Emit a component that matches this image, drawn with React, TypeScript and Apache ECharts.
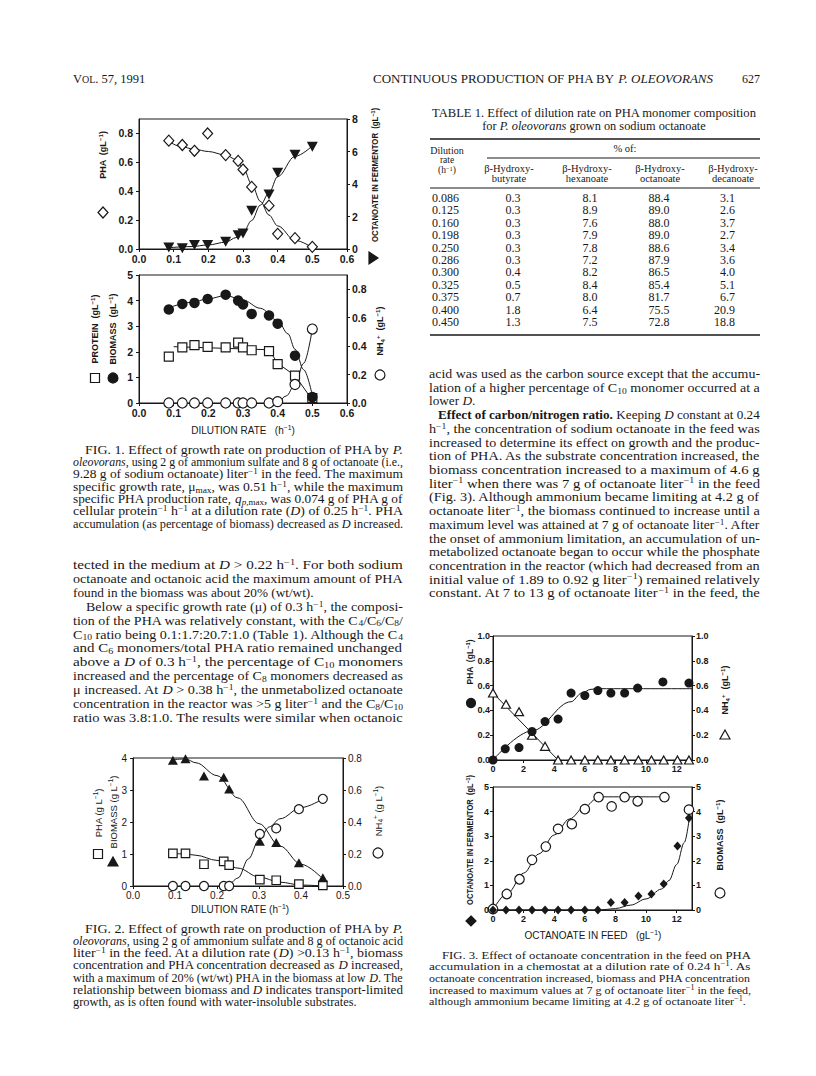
import React, { useEffect, useRef } from "react";
import * as echarts from "echarts";

const INK = "#181818";
const SERIF = '"Liberation Serif", "Times New Roman", serif';
const SANS = '"Liberation Sans", Arial, sans-serif';

// ---------------- DATA ----------------
// Fig. 1 (dilution rate, h^-1)
const fig1D = [0.086, 0.125, 0.16, 0.198, 0.25, 0.286, 0.3, 0.325, 0.375, 0.4, 0.45, 0.5];
const fig1Pha = [0.75, 0.72, 0.68, 0.8, 0.65, 0.61, 0.55, 0.43, 0.3, 0.105, 0.075, 0.015];
const fig1Octanoate = [0.1, 0.05, 0.25, 0.25, 0.45, 0.85, 0.95, 2.35, 3.35, 4.7, 5.8, 6.3];
const fig1PhaFitX = [0.086, 0.12, 0.16, 0.2, 0.25, 0.28, 0.3, 0.325, 0.35, 0.375, 0.4, 0.45, 0.5];
const fig1PhaFitY = [0.745, 0.71, 0.69, 0.675, 0.65, 0.62, 0.565, 0.45, 0.33, 0.235, 0.16, 0.06, 0.01];
const fig1OctFitX = [0.086, 0.15, 0.2, 0.25, 0.28, 0.3, 0.325, 0.35, 0.375, 0.4, 0.45, 0.5];
const fig1OctFitY = [0.08, 0.15, 0.25, 0.42, 0.7, 1.0, 1.75, 2.7, 3.45, 4.45, 5.7, 6.35];
const fig1Biomass = [3.65, 3.87, 3.91, 4.06, 4.23, 4.0, 3.85, 3.48, 3.42, 3.1, 1.85, 0.23];
const fig1Protein = [1.81, 2.17, 2.26, 2.19, 2.17, 2.36, 2.17, 2.06, 2.03, 1.52, 1.07, 0.19];
const fig1Nh4 = [0, 0, 0, 0, 0, 0, 0, 0, 0, 0.01, 0.13, 0.52];
const fig1BioFitX = [0.086, 0.15, 0.2, 0.25, 0.3, 0.35, 0.4, 0.43, 0.45, 0.475, 0.5];
const fig1BioFitY = [3.72, 3.93, 4.07, 4.2, 4.02, 3.7, 3.22, 2.7, 2.1, 1.3, 0.3];
const fig1ProtFitX = [0.1, 0.375, 0.4, 0.45, 0.5];
const fig1ProtFitY = [2.2, 2.08, 1.55, 1.07, 0.12];
const fig1Nh4FitX = [0.375, 0.4, 0.425, 0.45, 0.475, 0.5];
const fig1Nh4FitY = [0, 0.008, 0.05, 0.13, 0.28, 0.52];

// Fig. 2 (octanoic acid)
const fig2D = [0.095, 0.125, 0.169, 0.216, 0.229, 0.302, 0.341, 0.395, 0.452];
const fig2Biomass = [3.93, 3.98, 3.44, 3.4, 3.03, 1.4, 1.36, 0.73, 0.26];
const fig2Pha = [1.02, 1.02, 0.68, 0.77, 0.65, 0.2, 0.18, 0.06, 0.02];
const fig2Nh4 = [0, 0, 0, 0, 0, 0.325, 0.36, 0.48, 0.545];
const fig2BioFitX = [0.095, 0.125, 0.15, 0.2, 0.25, 0.3, 0.35, 0.4, 0.452];
const fig2BioFitY = [3.95, 3.97, 3.85, 3.45, 2.75, 1.95, 1.25, 0.68, 0.22];
const fig2PhaFitX = [0.095, 0.125, 0.15, 0.2, 0.25, 0.3, 0.35, 0.4, 0.452];
const fig2PhaFitY = [1.02, 1.0, 0.96, 0.8, 0.56, 0.28, 0.12, 0.03, 0.0];
const fig2Nh4FitX = [0.229, 0.25, 0.275, 0.3, 0.325, 0.35, 0.4, 0.452];
const fig2Nh4FitY = [0, 0.05, 0.17, 0.29, 0.37, 0.42, 0.49, 0.545];

// Fig. 3 (octanoate in feed, g/L)
const fig3PhaX = [0, 0.8, 1.7, 2.55, 3.4, 4.25, 5.1, 6.0, 6.85, 7.7, 8.6, 9.45, 11.1, 12.8];
const fig3Pha = [0, 0.09, 0.1, 0.23, 0.31, 0.33, 0.54, 0.52, 0.56, 0.54, 0.54, 0.58, 0.63, 0.62];
const fig3Feed16 = [0, 0.85, 1.7, 2.55, 3.4, 4.25, 5.1, 6.0, 6.85, 7.7, 8.6, 9.5, 10.35, 11.15, 12.05, 12.8];
const fig3Nh4 = [0.54, 0.45, 0.39, 0.2, 0.11, 0, 0, 0, 0, 0, 0, 0, 0, 0, 0, 0];
const fig3Octanoate = [0, 0, 0, 0, 0, 0, 0, 0, 0, 0.3, 0.3, 0.57, 0.65, 1.06, 2.6, 3.74];
const fig3BioX = [0, 0.9, 1.73, 2.55, 3.45, 4.25, 5.15, 6.0, 6.9, 7.75, 8.6, 9.45, 11.2, 12.8];
const fig3Biomass = [0.04, 0.65, 1.25, 2.04, 2.58, 3.3, 3.49, 4.1, 4.59, 4.21, 4.59, 4.42, 4.59, 4.08];
const fig3PhaFitX = [0, 2.55, 5.1, 5.8, 6.4, 7, 13];
const fig3PhaFitY = [0, 0.235, 0.47, 0.54, 0.57, 0.575, 0.575];
const fig3Nh4FitX = [0, 4.25];
const fig3Nh4FitY = [0.54, 0];
const fig3BioFitX = [0, 1, 2, 3, 4, 5, 6, 6.9, 11.2];
const fig3BioFitY = [0, 0.72, 1.5, 2.28, 3.05, 3.7, 4.2, 4.6, 4.6];
const fig3OctFitX = [0, 7, 8, 9, 10, 11, 11.5, 12, 12.5, 12.85];
const fig3OctFitY = [0, 0, 0.06, 0.2, 0.45, 0.85, 1.2, 1.85, 2.75, 3.85];

// Tick labels
const fig1XTicks = [0, 0.1, 0.2, 0.3, 0.4, 0.5, 0.6];
const fig1TopLeftTicks = [0, 0.2, 0.4, 0.6, 0.8];
const fig1TopRightTicks = [0, 2, 4, 6, 8];
const fig1BotLeftTicks = [0, 1, 2, 3, 4, 5];
const fig1BotRightTicks = [0, 0.2, 0.4, 0.6, 0.8];
const fig2XTicks = [0, 0.1, 0.2, 0.3, 0.4, 0.5];
const fig2LeftTicks = [0, 1, 2, 3, 4];
const fig2RightTicks = [0, 0.2, 0.4, 0.6, 0.8];
const fig3XTicks = [0, 2, 4, 6, 8, 10, 12];
const fig3TopTicks = [0, 0.2, 0.4, 0.6, 0.8, 1.0];
const fig3BotTicks = [0, 1, 2, 3, 4, 5];

// Table 1
const tableDilution = ["0.086", "0.125", "0.160", "0.198", "0.250", "0.286", "0.300", "0.325", "0.375", "0.400", "0.450"];
const tableButyrate = ["0.3", "0.3", "0.3", "0.3", "0.3", "0.3", "0.4", "0.5", "0.7", "1.8", "1.3"];
const tableHexanoate = ["8.1", "8.9", "7.6", "7.9", "7.8", "7.2", "8.2", "8.4", "8.0", "6.4", "7.5"];
const tableOctanoate = ["88.4", "89.0", "88.0", "89.0", "88.6", "87.9", "86.5", "85.4", "81.7", "75.5", "72.8"];
const tableDecanoate = ["3.1", "2.6", "3.7", "2.7", "3.4", "3.6", "4.0", "5.1", "6.7", "20.9", "18.8"];

// Body text (\t = indent, trailing \n = last line of paragraph)
const bodyLeft = [
  "tected in the medium at {i|D} > 0.22 h{sup|−1}. For both sodium",
  "octanoate and octanoic acid the maximum amount of PHA",
  "found in the biomass was about 20% (wt/wt).\n",
  "\tBelow a specific growth rate (μ) of 0.3 h{sup|−1}, the composi-",
  "tion of the PHA was relatively constant, with the C{sub|4}/C{sub|6}/C{sub|8}/",
  "C{sub|10} ratio being 0.1:1.7:20.7:1.0 (Table 1). Although the C{sub|4}",
  "and C{sub|6} monomers/total PHA ratio remained unchanged",
  "above a {i|D} of 0.3 h{sup|−1}, the percentage of C{sub|10} monomers",
  "increased and the percentage of C{sub|8} monomers decreased as",
  "μ increased. At {i|D} > 0.38 h{sup|−1}, the unmetabolized octanoate",
  "concentration in the reactor was >5 g liter{sup|−1} and the C{sub|8}/C{sub|10}",
  "ratio was 3.8:1.0. The results were similar when octanoic",
];
const bodyRight = [
  "acid was used as the carbon source except that the accumu-",
  "lation of a higher percentage of C{sub|10} monomer occurred at a",
  "lower {i|D}.\n",
  "\t{b|Effect of carbon/nitrogen ratio.} Keeping {i|D} constant at 0.24",
  "h{sup|−1}, the concentration of sodium octanoate in the feed was",
  "increased to determine its effect on growth and the produc-",
  "tion of PHA. As the substrate concentration increased, the",
  "biomass concentration increased to a maximum of 4.6 g",
  "liter{sup|−1} when there was 7 g of octanoate liter{sup|−1} in the feed",
  "(Fig. 3). Although ammonium became limiting at 4.2 g of",
  "octanoate liter{sup|−1}, the biomass continued to increase until a",
  "maximum level was attained at 7 g of octanoate liter{sup|−1}. After",
  "the onset of ammonium limitation, an accumulation of un-",
  "metabolized octanoate began to occur while the phosphate",
  "concentration in the reactor (which had decreased from an",
  "initial value of 1.89 to 0.92 g liter{sup|−1}) remained relatively",
  "constant. At 7 to 13 g of octanoate liter{sup|−1} in the feed, the",
];
const caption1 = [
  "\tFIG. 1. Effect of growth rate on production of PHA by {i|P.}",
  "{i|oleovorans}, using 2 g of ammonium sulfate and 8 g of octanoate (i.e.,",
  "9.28 g of sodium octanoate) liter{sup|−1} in the feed. The maximum",
  "specific growth rate, μ{sub|max}, was 0.51 h{sup|−1}, while the maximum",
  "specific PHA production rate, {i|q}{isub|p}{sub|,max}, was 0.074 g of PHA g of",
  "cellular protein{sup|−1} h{sup|−1} at a dilution rate ({i|D}) of 0.25 h{sup|−1}. PHA",
  "accumulation (as percentage of biomass) decreased as {i|D} increased.",
];
const caption2 = [
  "\tFIG. 2. Effect of growth rate on production of PHA by {i|P.}",
  "{i|oleovorans}, using 2 g of ammonium sulfate and 8 g of octanoic acid",
  "liter{sup|−1} in the feed. At a dilution rate ({i|D}) >0.13 h{sup|−1}, biomass",
  "concentration and PHA concentration decreased as {i|D} increased,",
  "with a maximum of 20% (wt/wt) PHA in the biomass at low {i|D}. The",
  "relationship between biomass and {i|D} indicates transport-limited",
  "growth, as is often found with water-insoluble substrates.\n",
];
const caption3 = [
  "\tFIG. 3. Effect of octanoate concentration in the feed on PHA",
  "accumulation in a chemostat at a dilution rate of 0.24 h{sup|−1}. As",
  "octanoate concentration increased, biomass and PHA concentration",
  "increased to maximum values at 7 g of octanoate liter{sup|−1} in the feed,",
  "although ammonium became limiting at 4.2 g of octanoate liter{sup|−1}.\n",
];

// ---------------- HELPERS ----------------
let mctx: CanvasRenderingContext2D | null = null;
function measure(text: string, fs: number, family: string, weight: string): number {
  if (!mctx) mctx = document.createElement("canvas").getContext("2d");
  const ctx = mctx as CanvasRenderingContext2D;
  const re = /\{(\w+)\|([^}]*)\}/g;
  let w = 0;
  let last = 0;
  const seg = (s: string, st: string) => {
    let size = fs;
    let italic = false;
    let bold = weight === "bold";
    if (st === "i") italic = true;
    if (st === "b") bold = true;
    if (st === "sup" || st === "sub") size = fs * 0.68;
    if (st === "isub") {
      italic = true;
      size = fs * 0.68;
    }
    if (st === "sc") size = fs * 0.8;
    ctx.font = `${italic ? "italic " : ""}${bold ? "bold " : ""}${size}px ${family}`;
    w += ctx.measureText(s).width;
  };
  let m: RegExpExecArray | null;
  while ((m = re.exec(text))) {
    if (m.index > last) seg(text.slice(last, m.index), "");
    seg(m[2], m[1]);
    last = re.lastIndex;
  }
  if (last < text.length) seg(text.slice(last), "");
  return w;
}

function richFor(fs: number, family: string, weight: string, lh: number) {
  const small = fs * 0.68;
  const base = { fontSize: fs, fontFamily: family, fontWeight: weight, lineHeight: lh, fill: INK, color: INK };
  const sm = { fontSize: small, fontFamily: family, fontWeight: weight, lineHeight: small + 1, fill: INK, color: INK };
  return {
    i: { ...base, fontStyle: "italic" },
    b: { ...base, fontWeight: "bold" },
    sc: { ...base, fontSize: fs * 0.8 },
    sup: { ...sm, verticalAlign: "top" },
    sub: { ...sm, verticalAlign: "bottom" },
    isub: { ...sm, fontStyle: "italic", verticalAlign: "bottom" },
  };
}

type TOpt = { family?: string; weight?: string; width?: number; scale?: number; align?: string; rotate?: boolean; lh?: number };
function txt(x: number, y: number, text: string, fs: number, o: TOpt = {}) {
  const family = o.family ?? SERIF;
  const weight = o.weight ?? "normal";
  const lh = o.lh ?? Math.round(fs * 1.2);
  let sx = o.scale ?? 1;
  if (o.width) sx = o.width / measure(text, fs, family, weight);
  return {
    type: "text",
    x,
    y,
    rotation: o.rotate ? Math.PI / 2 : 0,
    scaleX: sx,
    silent: true,
    style: {
      text,
      fontSize: fs,
      fontFamily: family,
      fontWeight: weight,
      lineHeight: lh,
      fill: INK,
      rich: richFor(fs, family, weight, lh),
      textAlign: o.align ?? "left",
      align: o.align ?? "left",
      textVerticalAlign: "middle",
      verticalAlign: "middle",
    },
  };
}

function block(lines: string[], x0: number, x1: number, y0: number, dy: number, fs: number, indent: number) {
  const items = lines.map((raw) => {
    const ind = raw.startsWith("\t");
    const end = raw.endsWith("\n");
    const t = raw.replace(/^\t/, "").replace(/\n$/, "");
    const xs = x0 + (ind ? indent : 0);
    const nat = measure(t, fs, SERIF, "normal");
    return { t, xs, end, scale: (x1 - xs) / nat };
  });
  const just = items.filter((d) => !d.end);
  const avg = just.reduce((a, d) => a + d.scale, 0) / Math.max(1, just.length);
  return items.map((d, i) => txt(d.xs, y0 + i * dy, d.t, fs, { scale: d.end ? Math.min(avg, 1.06) : d.scale }));
}

const stroke = (filled: boolean) => ({ fill: filled ? INK : "#fff", stroke: INK, lineWidth: 1.2 });
const gRect = (cx: number, cy: number, s: number, filled: boolean) => ({
  type: "rect", silent: true, shape: { x: cx - s / 2, y: cy - s / 2, width: s, height: s }, style: stroke(filled),
});
const gCircle = (cx: number, cy: number, r: number, filled: boolean) => ({
  type: "circle", silent: true, shape: { cx, cy, r }, style: stroke(filled),
});
const gPoly = (pts: number[][], filled: boolean) => ({ type: "polygon", silent: true, shape: { points: pts }, style: stroke(filled) });
const gLine = (x1: number, y1: number, x2: number, y2: number, w: number) => ({
  type: "line", silent: true, shape: { x1, y1, x2, y2 }, style: { stroke: INK, lineWidth: w },
});

const pairs = (xs: number[], ys: number[]) => xs.map((x, i) => [x, ys[i]]);

function scatter(xi: number, yi: number, data: number[][], symbol: string, size: any, filled: boolean, rotate = 0) {
  return {
    type: "scatter", xAxisIndex: xi, yAxisIndex: yi, data, symbol, symbolSize: size, symbolRotate: rotate,
    clip: false, z: 5, silent: true,
    itemStyle: { color: filled ? INK : "#fff", borderColor: INK, borderWidth: filled ? 0 : 1.2, opacity: 1 },
  };
}
function curve(xi: number, yi: number, data: number[][], smooth = true) {
  return {
    type: "line", xAxisIndex: xi, yAxisIndex: yi, data, symbol: "none", showSymbol: false,
    smooth: smooth ? 0.35 : false, smoothMonotone: "x", clip: false, z: 3, silent: true,
    lineStyle: { color: INK, width: 1 },
  };
}

type F = { size: number; weight: string };
function axis(gridIndex: number, max: number, ticks: number[], dec: number, f: F, margin: number, position?: string) {
  const last = ticks[ticks.length - 1];
  return {
    type: "value", gridIndex, min: 0, max, interval: ticks[1] - ticks[0], position,
    axisLine: { show: true, onZero: false, lineStyle: { color: INK, width: 1 } },
    axisTick: { show: true, inside: false, length: 3, customValues: ticks, lineStyle: { color: INK, width: 1 } },
    splitLine: { show: false },
    axisLabel: {
      show: true, customValues: ticks, margin, color: INK, fontFamily: SANS, fontSize: f.size, fontWeight: f.weight,
      hideOverlap: false,
      formatter: (v: number) => (v > last + 1e-9 ? "" : Number(v).toFixed(dec)),
    },
  };
}

const F1: F = { size: 10.5, weight: "bold" };
const F2: F = { size: 10, weight: "normal" };
const F3: F = { size: 9, weight: "bold" };

function buildOption() {
  const grid = (left: number, top: number, width: number, height: number) => ({
    left, top, width, height, show: true, borderColor: INK, borderWidth: 1, backgroundColor: "transparent",
    containLabel: false, outerBoundsMode: "none",
  });

  const xAxis = [
    axis(0, 0.6, fig1XTicks, 1, F1, 4),
    axis(1, 0.6, fig1XTicks, 1, F1, 4),
    axis(2, 0.5, fig2XTicks, 1, F2, 4),
    axis(3, 13, fig3XTicks, 0, F3, 4),
    axis(4, 13, fig3XTicks, 0, F3, 4),
  ];
  const yAxis = [
    axis(0, 0.9, fig1TopLeftTicks, 1, F1, 6, "left"),
    axis(0, 8, fig1TopRightTicks, 0, F1, 5, "right"),
    axis(1, 5, fig1BotLeftTicks, 0, F1, 6, "left"),
    axis(1, 0.9, fig1BotRightTicks, 1, F1, 5, "right"),
    axis(2, 4, fig2LeftTicks, 0, F2, 6, "left"),
    axis(2, 0.8, fig2RightTicks, 1, F2, 5, "right"),
    axis(3, 1.0, fig3TopTicks, 1, F3, 3, "left"),
    axis(3, 1.0, fig3TopTicks, 1, F3, 4, "right"),
    axis(4, 5, fig3BotTicks, 0, F3, 4, "left"),
    axis(4, 5, fig3BotTicks, 0, F3, 4, "right"),
  ];

  const series = [
    // Fig 1 top
    curve(0, 0, pairs(fig1PhaFitX, fig1PhaFitY)),
    curve(0, 1, pairs(fig1OctFitX, fig1OctFitY)),
    scatter(0, 0, pairs(fig1D, fig1Pha), "diamond", [10, 11], false),
    scatter(0, 1, pairs(fig1D, fig1Octanoate), "triangle", [11, 10], true, 180),
    // Fig 1 bottom
    curve(1, 2, pairs(fig1BioFitX, fig1BioFitY)),
    curve(1, 2, pairs(fig1ProtFitX, fig1ProtFitY), false),
    curve(1, 3, pairs(fig1Nh4FitX, fig1Nh4FitY)),
    scatter(1, 2, pairs(fig1D, fig1Protein), "rect", 9, false),
    scatter(1, 3, pairs(fig1D, fig1Nh4), "circle", 10, false),
    scatter(1, 2, pairs(fig1D, fig1Biomass), "circle", 10.5, true),
    // Fig 2
    curve(2, 4, pairs(fig2BioFitX, fig2BioFitY)),
    curve(2, 4, pairs(fig2PhaFitX, fig2PhaFitY)),
    curve(2, 5, pairs(fig2Nh4FitX, fig2Nh4FitY)),
    scatter(2, 4, pairs(fig2D, fig2Pha), "rect", 8.5, false),
    scatter(2, 5, pairs(fig2D, fig2Nh4), "circle", 9, false),
    scatter(2, 4, pairs(fig2D, fig2Biomass), "triangle", [10, 9], true),
    // Fig 3 top
    curve(3, 6, pairs(fig3PhaFitX, fig3PhaFitY)),
    curve(3, 7, pairs(fig3Nh4FitX, fig3Nh4FitY), false),
    scatter(3, 7, pairs(fig3Feed16, fig3Nh4), "triangle", [9, 8], false),
    scatter(3, 6, pairs(fig3PhaX, fig3Pha), "circle", 9, true),
    // Fig 3 bottom
    curve(4, 9, pairs(fig3BioFitX, fig3BioFitY)),
    curve(4, 8, pairs(fig3OctFitX, fig3OctFitY)),
    scatter(4, 9, pairs(fig3BioX, fig3Biomass), "circle", 9.5, false),
    scatter(4, 8, pairs(fig3Feed16, fig3Octanoate), "diamond", [8, 9], true),
  ];

  const els: any[] = [];
  // Running head
  els.push(txt(73, 79, "V{sc|OL}. 57, 1991", 12.5));
  els.push(txt(373, 79, "CONTINUOUS PRODUCTION OF PHA BY {i|P. OLEOVORANS}", 11.5, { width: 340 }));
  els.push(txt(760, 79, "627", 12, { align: "right" }));

  // Table 1
  els.push(txt(432, 113, "TABLE 1. Effect of dilution rate on PHA monomer composition", 12.3, { width: 325 }));
  els.push(txt(594, 126, "for {i|P. oleovorans} grown on sodium octanoate", 12.3, { align: "center" }));
  els.push(gLine(430, 139, 760, 139, 1.5));
  els.push(gLine(487, 158, 760, 158, 1));
  els.push(gLine(430, 188, 760, 188, 1));
  els.push(gLine(430, 335, 760, 335, 1.5));
  els.push(txt(447, 150, "Dilution", 10, { align: "center", lh: 10 }));
  els.push(txt(447, 160, "rate", 9.5, { align: "center", lh: 9 }));
  els.push(txt(447, 170, "(h{sup|−1})", 9.5, { align: "center", lh: 9 }));
  els.push(txt(625, 148, "% of:", 10.5, { align: "center" }));
  const colX = [509, 587, 660, 733];
  const colNames = ["butyrate", "hexanoate", "octanoate", "decanoate"];
  colX.forEach((cx, i) => {
    els.push(txt(cx, 168, "β-Hydroxy-", 10.5, { align: "center", lh: 10 }));
    els.push(txt(cx, 178, colNames[i], 10.5, { align: "center", lh: 10 }));
  });
  tableDilution.forEach((v, i) => {
    const y = 198 + i * 12.4;
    els.push(txt(432, y, v, 12));
    els.push(txt(513, y, tableButyrate[i], 12, { align: "center" }));
    els.push(txt(590, y, tableHexanoate[i], 12, { align: "center" }));
    els.push(txt(659, y, tableOctanoate[i], 12, { align: "center" }));
    els.push(txt(735, y, tableDecanoate[i], 12, { align: "right" }));
  });

  // Body and captions
  els.push(...block(caption1, 73, 403, 450, 12.35, 11.7, 12));
  els.push(...block(bodyLeft, 73, 403, 565, 13.9, 12.5, 13));
  els.push(...block(caption2, 73, 403, 929, 12.2, 11.7, 12));
  els.push(...block(bodyRight, 429, 760, 374, 13.7, 12.5, 9));
  els.push(...block(caption3, 429, 751, 955, 11.75, 11.4, 13));

  // Fig 1 axis titles & keys
  const b = { family: SANS, weight: "bold", rotate: true, align: "center" };
  els.push(txt(103, 155, "PHA  (gL{sup|−1})", 9, b));
  els.push(gPoly([[103, 207], [108, 212.5], [103, 218], [98, 212.5]], false));
  els.push(txt(375, 175, "OCTANOATE IN FERMENTOR  (gL{sup|−1})", 8.5, { ...b, width: 134 }));
  els.push(gPoly([[369, 252], [378, 258], [369, 264]], true));
  els.push(txt(95, 329, "PROTEIN  (gL{sup|−1})", 9, b));
  els.push(txt(113, 329, "BIOMASS  (gL{sup|−1})", 9, b));
  els.push(gRect(95, 378, 9, false));
  els.push(gCircle(113, 378, 5, true));
  els.push(txt(380, 331, "NH{sub|4}{sup|+}  (gL{sup|−1})", 9, b));
  els.push(gCircle(380, 375, 5, false));
  els.push(txt(243, 430, "DILUTION RATE   (h{sup|−1})", 10, { family: SANS, align: "center" }));

  // Fig 2
  const n = { family: SANS, weight: "normal", rotate: true, align: "center" };
  els.push(txt(98, 813, "PHA (g L{sup|−1})", 9.5, n));
  els.push(txt(113, 812, "BIOMASS (g L{sup|−1})", 9.5, n));
  els.push(gRect(98, 854, 9, false));
  els.push(gPoly([[113, 857], [118, 866], [108, 866]], true));
  els.push(txt(378, 811, "NH{sub|4}{sup|+} (g L{sup|−1})", 9.5, n));
  els.push(gCircle(378, 853, 5, false));
  els.push(txt(240, 909, "DILUTION RATE (h{sup|−1})", 10, { family: SANS, align: "center" }));

  // Fig 3
  els.push(txt(470, 662, "PHA  (gL{sup|−1})", 8.5, b));
  els.push(gCircle(471, 703, 4.5, true));
  els.push(txt(725, 690, "NH{sub|4}{sup|+}  (gL{sup|−1})", 9, b));
  els.push(gPoly([[725, 730], [730, 739], [720, 739]], false));
  els.push(txt(470, 840, "OCTANOATE IN FERMENTOR  (gL{sup|−1})", 8.5, { ...b, width: 130 }));
  els.push(gPoly([[471, 916], [476, 921], [471, 926], [466, 921]], true));
  els.push(txt(720, 835, "BIOMASS  (gL{sup|−1})", 9, b));
  els.push(gCircle(720, 893, 5, false));
  els.push(txt(593, 935, "OCTANOATE IN FEED   (gL{sup|−1})", 10, { family: SANS, align: "center" }));

  return {
    animation: false,
    backgroundColor: "#ffffff",
    textStyle: { fontFamily: SANS, color: INK },
    grid: [
      grid(139, 119, 208, 130),
      grid(139, 275, 208, 128),
      grid(133, 758, 210, 128),
      grid(493, 636, 199, 124),
      grid(493, 787, 199, 123),
    ],
    xAxis,
    yAxis,
    series,
    graphic: { elements: els },
  };
}

export default function App() {
  const ref = useRef<HTMLDivElement | null>(null);
  useEffect(() => {
    if (!ref.current) return;
    const chart = echarts.init(ref.current, null, { renderer: "svg" });
    chart.setOption(buildOption() as any);
    return () => chart.dispose();
  }, []);
  return (
    <div
      ref={ref}
      style={{ position: "absolute", left: 0, top: 0, width: 816, height: 1076, background: "#fff" }}
    />
  );
}
